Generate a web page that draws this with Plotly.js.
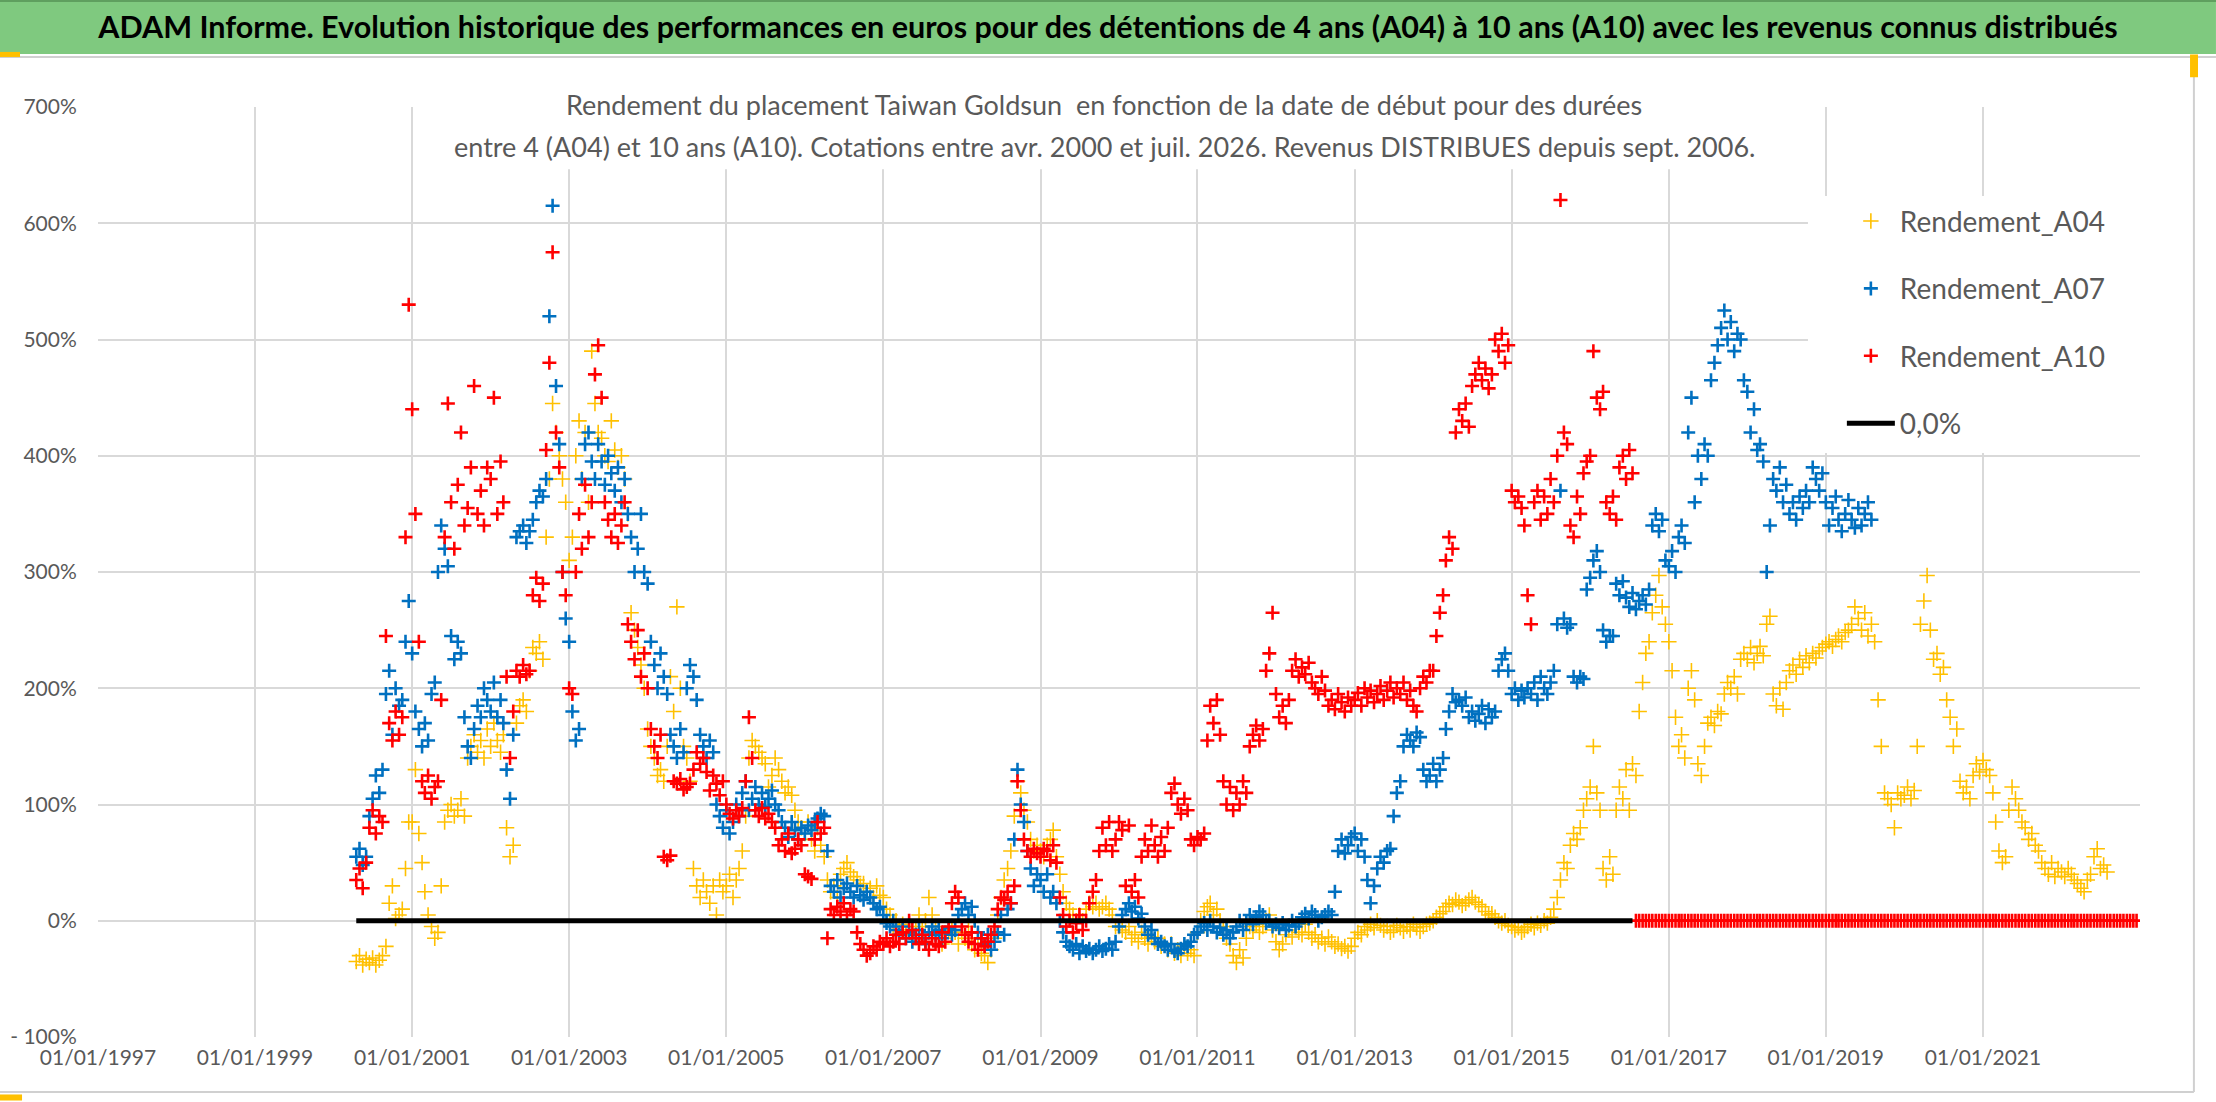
<!DOCTYPE html>
<html>
<head>
<meta charset="utf-8">
<script src="https://cdn.plot.ly/plotly-3.0.1.min.js"></script>
<style>
  html, body { margin: 0; padding: 0; background: #fff; }
  #chart { width: 2216px; height: 1102px; }
</style>
</head>
<body>
<div id="chart"></div>
<script>
// one value every half month (1st and 16th), first value on 16/04/2000
const rendementA04 = [
  -35,-30,-38,-33,-36,-32,-38,-34,-30,-22,15,30,2,5,10,45,85,
  85,130,75,50,25,5,-5,-15,-10,30,85,95,100,90,95,105,90,140,150,160,145,155,140,165,
  150,170,155,145,160,80,55,65,170,185,190,180,215,235,230,240,225,330,380,445,420,400,380,360,
  310,330,400,430,380,420,360,490,445,420,415,400,395,430,405,390,400,380,350,265,250,235,220,200,
  165,150,140,125,130,120,150,210,180,270,200,150,140,120,45,30,20,35,25,15,30,5,35,25,
  30,40,20,35,45,60,90,140,155,150,145,140,135,115,125,140,130,120,110,115,108,95,85,80,
  75,85,70,60,80,65,55,35,25,30,20,40,45,50,42,38,35,30,32,25,28,20,30,22,
  20,10,5,-5,0,-8,-3,-12,-5,-15,-8,5,-5,0,20,5,-5,-12,-20,-15,-8,-5,-10,-20,
  -10,-15,-5,-20,-25,-15,-28,-30,-36,-25,-15,5,20,35,45,60,90,120,110,95,85,70,60,65,
  60,55,65,70,78,55,40,25,15,10,5,0,5,0,10,15,12,15,10,12,15,10,5,-5,
  -5,-8,-10,-5,-15,-12,-18,-10,-15,-20,-14,-18,-15,-22,-20,-25,-20,-28,-25,-30,-22,-28,-25,-30,
  -10,0,8,12,15,5,10,0,-5,-15,-20,-30,-36,-25,-32,-15,-5,-8,-3,-10,-5,0,5,-8,
  -18,-25,-20,-12,-8,-14,-5,-10,-12,-3,-10,-15,-12,-18,-15,-20,-14,-18,-22,-20,-24,-22,-26,-22,
  -15,-10,-12,-5,-8,-3,-6,0,-4,-8,-5,-10,-8,-4,-6,-9,-5,-8,-3,-6,-9,-5,-3,-2,
  0,3,6,8,12,15,14,18,16,13,15,18,20,16,14,12,8,5,6,3,0,-2,0,-4,
  -5,-8,-6,-10,-8,-5,-3,-6,-2,-4,0,-2,3,10,20,35,50,45,65,75,70,80,95,105,
  115,150,110,95,45,35,55,40,95,115,105,130,95,135,125,180,205,230,240,265,280,297,270,255,
  240,215,175,150,160,140,200,215,190,135,125,150,170,175,168,180,178,195,205,200,210,195,225,230,
  225,235,222,230,236,228,255,262,195,185,200,182,205,215,220,212,225,218,228,222,230,226,232,235,
  238,240,236,242,245,240,248,250,255,270,260,250,265,245,255,240,190,150,110,105,100,80,110,105,
  108,115,105,112,150,255,275,297,250,225,230,212,218,190,175,150,165,120,110,115,105,125,135,128,
  138,130,125,110,85,60,50,55,95,115,105,95,85,80,70,75,65,60,50,45,40,50,38,45,
  42,38,45,40,35,32,28,25,35,40,55,62,45,48,42
]

const rendementA07 = [
  55,62,48,55,90,105,125,110,130,195,215,160,200,185,190,240,275,
  230,180,165,150,170,155,195,205,300,340,320,305,245,225,240,230,175,150,140,165,185,175,200,190,
  180,205,175,190,170,130,105,160,330,335,340,325,335,345,360,370,365,380,520,615,460,410,300,260,
  240,180,155,165,380,410,420,395,380,410,395,375,400,385,370,390,360,380,350,330,300,320,350,300,
  290,240,220,200,230,210,195,160,150,140,165,145,200,220,210,190,160,150,140,155,145,100,90,80,
  95,75,85,100,90,110,120,95,105,115,100,110,98,105,112,100,95,85,80,72,85,78,70,80,
  75,82,78,85,88,92,90,60,30,25,35,20,28,32,25,20,30,22,18,25,20,15,10,12,
  5,-2,-5,0,-8,-12,-5,-15,-10,-18,-12,-8,-15,-20,-10,-5,-12,-8,-15,-10,-6,-12,-8,5,
  10,15,5,12,0,-10,-15,-20,-12,-25,-18,-10,5,-12,10,15,70,130,100,85,60,45,30,40,
  35,25,40,20,25,15,0,-10,-18,-22,-25,-20,-28,-22,-26,-24,-28,-25,-22,-26,-24,-20,-25,-18,
  -5,5,10,15,8,12,2,6,-5,-12,-8,-15,-20,-18,-22,-25,-20,-26,-28,-24,-20,-22,-18,-12,
  -10,-5,-2,-8,0,-5,-10,-6,-12,-8,-15,-10,-5,0,-8,-2,5,-3,3,8,5,-2,0,-5,
  -3,-6,-2,-8,-4,0,-5,-2,3,6,2,8,5,0,3,5,8,5,25,60,70,58,65,72,
  75,60,70,55,35,15,30,45,55,50,60,62,90,110,120,150,160,155,150,162,158,130,120,125,
  135,120,130,140,165,180,195,188,190,185,192,175,180,172,178,185,170,182,175,180,215,225,230,215,
  195,200,190,198,192,200,195,205,190,210,200,195,205,215,255,370,260,252,255,210,205,210,208,285,
  295,310,318,300,250,240,245,245,290,280,292,278,270,282,268,275,280,272,285,340,350,335,345,310,
  305,318,300,330,340,325,420,450,360,400,380,410,400,465,480,495,510,525,500,515,490,505,500,465,
  455,420,440,405,410,395,300,340,380,370,390,360,375,350,360,345,365,355,370,360,390,380,370,385,
  360,340,355,365,345,335,350,362,345,338,355,340,350,360,345
]

const rendementA10 = [
  35,45,28,50,80,95,75,90,85,245,170,155,180,160,175,330,530,
  440,350,240,120,110,125,105,115,120,190,330,445,360,320,375,420,340,355,390,460,350,370,340,390,
  380,450,350,395,360,210,140,180,215,210,220,212,215,280,295,275,290,405,480,575,420,390,300,280,
  200,195,300,350,320,375,330,360,470,495,450,360,345,330,350,325,340,360,255,240,225,250,210,230,
  200,165,150,140,160,55,52,56,120,118,122,113,115,118,130,145,135,140,128,112,125,118,108,120,
  100,92,88,95,90,97,120,175,140,95,90,97,88,92,85,80,65,70,60,75,58,62,70,65,
  40,38,36,70,85,75,80,-15,10,5,12,8,15,5,10,8,-10,-20,-25,-30,-28,-22,-25,-18,
  -20,-15,-22,-18,-12,-20,-10,-15,0,-8,-15,-20,-12,-18,-25,-15,-20,-22,-10,-18,-5,15,25,20,
  -5,-12,-18,-10,-20,-25,-15,-22,-18,-12,-5,10,20,18,25,15,30,120,95,70,60,55,62,58,
  55,62,60,52,65,50,20,5,-5,0,-10,-2,5,-8,0,15,25,35,60,80,65,85,60,70,
  85,78,30,82,25,35,20,55,70,60,82,65,55,72,60,80,110,118,100,92,105,95,70,65,
  72,70,75,155,185,170,190,160,120,100,115,95,110,100,120,110,150,160,168,155,165,215,230,265,
  195,175,185,170,190,215,225,210,218,212,222,205,200,195,210,198,185,190,182,195,188,180,192,185,
  190,196,185,200,192,198,188,195,202,190,198,205,192,200,195,205,190,198,185,180,200,210,205,215,
  215,245,265,280,310,330,320,420,440,430,445,425,460,470,480,465,475,458,470,500,490,505,480,495,
  370,360,365,355,340,280,255,360,370,345,365,350,380,360,400,620,420,410,340,330,365,350,385,395,
  400,490,450,440,455,360,350,365,345,390,400,380,405,385,
  0,0,0,0,0,0,0,0,0,0,
  0,0,0,0,0,0,0,0,0,0,0,0,0,0,0,0,0,0,0,0,0,0,0,0,
  0,0,0,0,0,0,0,0,0,0,0,0,0,0,0,0,0,0,0,0,0,0,0,0,
  0,0,0,0,0,0,0,0,0,0,0,0,0,0,0,0,0,0,0,0,0,0,0,0,
  0,0,0,0,0,0,0,0,0,0,0,0,0,0,0,0,0,0,0,0,0,0,0,0,
  0,0,0,0,0,0,0,0,0,0,0,0,0,0,0,0,0,0,0,0,0,0,0,0,
  0,0,0,0,0,0,0,0,0,0,0,0,0,0,0,0,0,0,0,0,0,0,0,0
]

const zeroLineDates = ['2000-04-16', '2016-07-16']
const zeroLineValues = [0, 0]

const tickDates = ['1997-01-01','1999-01-01','2001-01-01','2003-01-01','2005-01-01','2007-01-01','2009-01-01','2011-01-01','2013-01-01','2015-01-01','2017-01-01','2019-01-01','2021-01-01']
const tickLabels = ['01/01/1997','01/01/1999','01/01/2001','01/01/2003','01/01/2005','01/01/2007','01/01/2009','01/01/2011','01/01/2013','01/01/2015','01/01/2017','01/01/2019','01/01/2021']
const yTicks = [-100, 0, 100, 200, 300, 400, 500, 600, 700]
const yLabels = ['- 100%', '0%', '100%', '200%', '300%', '400%', '500%', '600%', '700%']

function halfMonthDates(count) {
  const dates = []
  let year = 2000, month = 4, day = 16
  for (let i = 0; i < count; i++) {
    dates.push(year + '-' + String(month).padStart(2, '0') + '-' + String(day).padStart(2, '0'))
    if (day === 1) {
      day = 16
    } else {
      day = 1
      month++
      if (month > 12) { month = 1; year++ }
    }
  }
  return dates
}

function crossTrace(name, values, color, size, width, group) {
  return {
    x: halfMonthDates(values.length),
    y: values,
    type: 'scatter',
    mode: 'markers',
    name: name,
    legendgroup: group,
    marker: { symbol: 'cross-thin', size: size, color: color, line: { color: color, width: width } }
  }
}

const grey = '#595959'
const font = 'Lato, "Open Sans", sans-serif'

const data = [
  crossTrace('Rendement_A04', rendementA04, '#FFC000', 11, 1.6, 'a'),
  crossTrace('Rendement_A07', rendementA07, '#0070C0', 10, 2.6, 'b'),
  crossTrace('Rendement_A10', rendementA10, '#FF0000', 10, 2.6, 'c'),
  {
    x: zeroLineDates,
    y: zeroLineValues,
    type: 'scatter',
    mode: 'lines',
    name: '0,0%',
    legendgroup: 'd',
    line: { color: '#000000', width: 5 }
  }
]

const layout = {
  width: 2216,
  height: 1102,
  margin: { l: 98, r: 76, t: 107, b: 65 },
  paper_bgcolor: '#ffffff',
  plot_bgcolor: '#ffffff',
  font: { family: font, color: grey },
  title: {
    text: '<b>ADAM Informe. Evolution historique des performances en euros pour des détentions de 4 ans (A04) à 10 ans (A10) avec les revenus connus distribués</b>',
    font: { family: font, size: 30.5, color: '#000000' },
    xref: 'container', x: 0.5, xanchor: 'center',
    yref: 'container', y: 0.9755, yanchor: 'middle'
  },
  xaxis: {
    type: 'date',
    range: ['1997-01-01', '2023-01-01'],
    tickmode: 'array',
    tickvals: tickDates,
    ticktext: tickLabels,
    ticks: 'outside', ticklen: 2, tickcolor: 'rgba(0,0,0,0)',
    tickfont: { family: font, size: 21, color: grey },
    showgrid: true, gridcolor: '#D9D9D9', gridwidth: 2,
    zeroline: false, showline: false
  },
  yaxis: {
    range: [-100, 700],
    tickmode: 'array',
    tickvals: yTicks,
    ticktext: yLabels,
    ticks: 'outside', ticklen: 16, tickcolor: 'rgba(0,0,0,0)',
    tickfont: { family: font, size: 21, color: grey },
    showgrid: true, gridcolor: '#D9D9D9', gridwidth: 2,
    zeroline: false, showline: false
  },
  showlegend: true,
  legend: {
    x: 0.854, xanchor: 'left',
    y: 0.904, yanchor: 'top',
    bgcolor: 'rgba(0,0,0,0)',
    font: { family: font, size: 28, color: grey },
    itemwidth: 48,
    tracegroupgap: 28,
    traceorder: 'grouped'
  },
  shapes: [
    // green title band
    { type: 'rect', xref: 'paper', yref: 'paper', x0: -0.048, x1: 1.0372, y0: 1.057, y1: 1.1151,
      fillcolor: '#7fc97f', line: { width: 0 }, layer: 'below' },
    { type: 'line', xref: 'paper', yref: 'paper', x0: -0.048, x1: 1.0372, y0: 1.1140, y1: 1.1140,
      line: { color: '#5f9f5f', width: 2 } },
    { type: 'line', xref: 'paper', yref: 'paper', x0: -0.048, x1: 1.0372, y0: 1.0538, y1: 1.0538,
      line: { color: '#d0d0d0', width: 2 } },
    // chart frame
    { type: 'line', xref: 'paper', yref: 'paper', x0: 1.0264, x1: 1.0264, y0: -0.0591, y1: 1.0538,
      line: { color: '#d0d0d0', width: 2 } },
    { type: 'line', xref: 'paper', yref: 'paper', x0: -0.048, x1: 1.0264, y0: -0.0591, y1: -0.0591,
      line: { color: '#d0d0d0', width: 2 } },
    // white boxes behind subtitle and legend
    { type: 'rect', xref: 'paper', yref: 'paper', x0: 0.1734, x1: 0.81, y0: 0.933, y1: 1.02,
      fillcolor: '#ffffff', line: { width: 0 }, layer: 'above' },
    { type: 'rect', xref: 'paper', yref: 'paper', x0: 0.8374, x1: 1.0, y0: 0.628, y1: 0.9043,
      fillcolor: '#ffffff', line: { width: 0 }, layer: 'above' },
    // selection handles
    { type: 'rect', xref: 'paper', yref: 'paper', x0: -0.048, x1: -0.0382, y0: 1.0538, y1: 1.0592,
      fillcolor: '#FFC000', line: { width: 0 } },
    { type: 'rect', xref: 'paper', yref: 'paper', x0: 1.0245, x1: 1.0284, y0: 1.032, y1: 1.0565,
      fillcolor: '#FFC000', line: { width: 0 } },
    { type: 'rect', xref: 'paper', yref: 'paper', x0: -0.048, x1: -0.0372, y0: -0.0683, y1: -0.0618,
      fillcolor: '#FFC000', line: { width: 0 } }
  ],
  annotations: [
    { xref: 'paper', yref: 'paper', x: 0.4927, y: 1.0022, xanchor: 'center', yanchor: 'middle',
      text: 'Rendement du placement Taiwan Goldsun  en fonction de la date de début pour des durées',
      showarrow: false, font: { family: font, size: 27, color: grey } },
    { xref: 'paper', yref: 'paper', x: 0.4927, y: 0.957, xanchor: 'center', yanchor: 'middle',
      text: 'entre 4 (A04) et 10 ans (A10). Cotations entre avr. 2000 et juil. 2026. Revenus DISTRIBUES depuis sept. 2006.',
      showarrow: false, font: { family: font, size: 27, color: grey } }
  ]
}

Plotly.newPlot(document.getElementById('chart'), data, layout, { staticPlot: true })
</script>
</body>
</html>
